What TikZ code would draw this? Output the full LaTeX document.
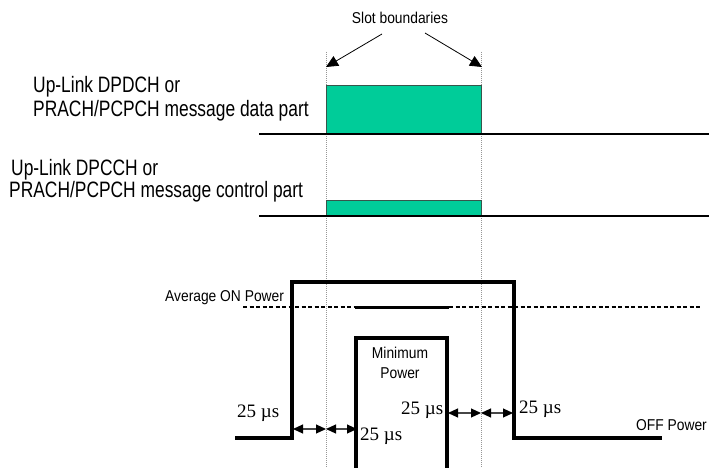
\documentclass[tikz,border=0pt]{standalone}
\usepackage{fontspec}
\setmainfont{Liberation Sans}
\newfontfamily\bigf[FakeStretch=0.78]{Liberation Sans}
\newfontfamily\smallf[FakeStretch=0.88]{Liberation Sans}
\newfontfamily\timesf{Liberation Serif}
\usetikzlibrary{arrows.meta}
\definecolor{slotgreen}{RGB}{0,204,153}
\definecolor{boxedge}{RGB}{55,85,75}
\definecolor{guide}{RGB}{150,150,150}
\begin{document}
\begin{tikzpicture}[x=1pt,y=-1pt,
  biglabel/.style={inner sep=0pt,anchor=base west,font=\bigf\fontsize{22.3}{26}\selectfont},
  smalllabel/.style={inner sep=0pt,font=\smallf\fontsize{15.7}{18}\selectfont},
  uslabel/.style={inner sep=0pt,anchor=base west,font=\timesf\fontsize{19}{22}\selectfont},
  guideline/.style={draw=guide,line width=0.9pt,dash pattern=on 1pt off 1pt},
  signal/.style={draw=black,line width=2.2pt},
  slotbox/.style={fill=slotgreen,draw=boxedge,line width=0.9pt},
  powerline/.style={draw=black,line width=3.2pt,line join=miter},
  avgline/.style={draw=black,line width=1.1pt,dash pattern=on 4pt off 2.5pt},
  avgsolid/.style={draw=black,line width=3pt},
  slotarrow/.style={draw=black,line width=0.8pt,-{Triangle[length=12pt,width=11pt]}},
  gaparrow/.style={draw=gray!55!black,line width=1.1pt,{Triangle[length=10pt,width=9pt,color=black]}-{Triangle[length=10pt,width=9pt,color=black]}}]
\useasboundingbox (0,0) rectangle (709,468);

% guide lines (slot boundaries)
\coordinate (gLt) at (326,52); \coordinate (gLb) at (326,468);
\coordinate (gRt) at (481,52); \coordinate (gRb) at (481,468);
\draw[guideline] (gLt) -- (gLb);
\draw[guideline] (gRt) -- (gRb);

% slot boundaries label and arrows
\node[smalllabel] (slot) at (400,18) {Slot boundaries};
\coordinate (aLs) at (382,34); \coordinate (aLe) at (326,67);
\coordinate (aRs) at (425,33); \coordinate (aRe) at (482,67);
\draw[slotarrow] (aLs) -- (aLe);
\draw[slotarrow] (aRs) -- (aRe);

% data part
\node[biglabel] (d1) at (33,93) {Up-Link DPDCH or};
\node[biglabel] (d2) at (33,117) {PRACH/PCPCH message data part};
\path[slotbox] (326,85) rectangle (481,134);
\coordinate (s1a) at (259,134); \coordinate (s1b) at (709,134);
\draw[signal] (s1a) -- (s1b);

% control part
\node[biglabel] (c1) at (11,175) {Up-Link DPCCH or};
\node[biglabel] (c2) at (9,197) {PRACH/PCPCH message control part};
\path[slotbox] (326,200) rectangle (481,216);
\coordinate (s2a) at (259,216); \coordinate (s2b) at (709,216);
\draw[signal] (s2a) -- (s2b);

% average ON power line
\node[smalllabel,anchor=base west] (avg) at (165,301) {Average ON Power};
\coordinate (av0) at (243,307); \coordinate (av1) at (355,307);
\coordinate (av2) at (449,307); \coordinate (av3) at (700,307);
\draw[avgline] (av0) -- (av1);
\draw[avgline] (av2) -- (av3);
\draw[avgsolid] (av1) -- (av2);

% ON/OFF power envelope
\coordinate (p0) at (235,438); \coordinate (p1) at (292,438);
\coordinate (p2) at (292,282); \coordinate (p3) at (514,282);
\coordinate (p4) at (514,438); \coordinate (p5) at (662,438);
\draw[powerline] (p0) -- (p1) -- (p2) -- (p3) -- (p4) -- (p5);

% minimum power envelope
\coordinate (m0) at (356,470); \coordinate (m1) at (356,338);
\coordinate (m2) at (447,338); \coordinate (m3) at (447,470);
\draw[powerline] (m0) -- (m1) -- (m2) -- (m3);
\node[smalllabel,anchor=base] (min1) at (400,358) {Minimum};
\node[smalllabel,anchor=base] (min2) at (400,378) {Power};

% OFF power label
\node[smalllabel,anchor=base east] (off) at (707,430) {OFF Power};

% 25 us gaps
\coordinate (ga0) at (293,429); \coordinate (ga1) at (326,429); \coordinate (ga2) at (357,429);
\draw[gaparrow] (ga0) -- (ga1);
\draw[gaparrow] (ga1) -- (ga2);
\coordinate (gb0) at (448,413); \coordinate (gb1) at (481,413); \coordinate (gb2) at (513,413);
\draw[gaparrow] (gb0) -- (gb1);
\draw[gaparrow] (gb1) -- (gb2);

\node[uslabel] (us1) at (237,417) {25 µs};
\node[uslabel] (us2) at (360,440) {25 µs};
\node[uslabel] (us3) at (401,414) {25 µs};
\node[uslabel] (us4) at (519,413) {25 µs};
\end{tikzpicture}
\end{document}
